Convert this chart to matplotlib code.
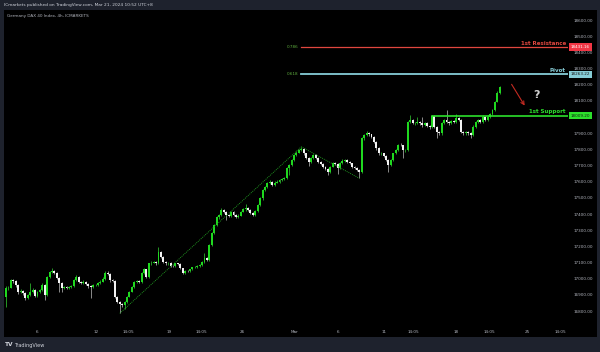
import matplotlib
matplotlib.use("Agg")
import matplotlib.pyplot as plt
import matplotlib.transforms as mtransforms
from matplotlib.patches import Rectangle
import numpy as np

# ---------------- data ----------------
first_open = 16885
closes = [16940, 16945, 16990, 16985, 16960, 16918, 16925, 16910, 16880, 16900,
          16920, 16930, 16895, 16915, 16930, 16960, 16900, 17010, 17040, 17050,
          17035, 17005, 16975, 16945, 16950, 16943, 16950, 16955, 16990, 17010,
          16982, 16975, 16982, 16970, 16955, 16950, 16960, 16962, 16975, 16982,
          17000, 17037, 17030, 16990, 16985, 16890, 16858, 16843, 16838, 16858,
          16890, 16920, 16950, 16982, 16985, 16980, 17033, 17058, 17010, 17095,
          17100, 17105, 17095, 17167, 17136, 17105, 17095, 17098, 17079, 17078,
          17095, 17092, 17064, 17037, 17050, 17045, 17058, 17070, 17073, 17080,
          17085, 17104, 17128, 17116, 17209, 17283, 17332, 17380, 17394, 17425,
          17415, 17394, 17388, 17415, 17394, 17383, 17390, 17415, 17429, 17436,
          17425, 17405, 17394, 17420, 17456, 17497, 17549, 17569, 17590, 17600,
          17580, 17595, 17600, 17611, 17615, 17621, 17683, 17703, 17734, 17765,
          17780, 17796, 17800, 17775, 17745, 17724, 17745, 17765, 17745, 17724,
          17710, 17693, 17677, 17662, 17693, 17714, 17710, 17683, 17714, 17730,
          17735, 17724, 17714, 17693, 17683, 17672, 17662, 17868, 17889, 17899,
          17893, 17878, 17847, 17806, 17775, 17775, 17759, 17734, 17703, 17734,
          17775, 17796, 17827, 17825, 17796, 17796, 17971, 17981, 17961, 17961,
          17971, 17961, 17951, 17961, 17945, 17936, 18006, 17940, 17909, 17899,
          17961, 17981, 17971, 17961, 17975, 17971, 17992, 17981, 17909, 17899,
          17909, 17899, 17889, 17940, 17971, 17981, 17971, 18002, 17981, 18002,
          18020, 18045, 18095, 18150, 18185]
highs = [16955, 16955, 17000, 16998, 16992, 16968, 16935, 16932, 16915, 16908,
         16972, 16940, 16935, 16922, 16938, 16975, 16965, 17015, 17048, 17068,
         17055, 17040, 17010, 16980, 16958, 16955, 16958, 16962, 16996, 17022,
         17015, 16988, 16990, 16988, 16975, 16960, 16968, 16970, 16982, 16990,
         17008, 17048, 17045, 17035, 16998, 16992, 16895, 16865, 16850, 16865,
         16895, 16925, 16955, 16988, 16992, 16992, 17040, 17065, 17062, 17100,
         17108, 17112, 17110, 17196, 17172, 17140, 17110, 17105, 17102, 17085,
         17100, 17100, 17098, 17068, 17055, 17055, 17062, 17075, 17080, 17088,
         17092, 17110, 17160, 17135, 17215, 17290, 17340, 17388, 17402, 17440,
         17432, 17420, 17400, 17422, 17420, 17400, 17398, 17422, 17435, 17460,
         17442, 17430, 17410, 17428, 17462, 17505, 17555, 17575, 17598, 17610,
         17605, 17602, 17608, 17618, 17622, 17628, 17690, 17710, 17740, 17772,
         17788, 17805, 17816, 17806, 17780, 17750, 17752, 17772, 17770, 17750,
         17730, 17715, 17698, 17682, 17700, 17720, 17720, 17715, 17720, 17738,
         17742, 17740, 17730, 17718, 17698, 17688, 17678, 17875, 17895, 17915,
         17905, 17898, 17882, 17852, 17812, 17782, 17780, 17765, 17740, 17740,
         17780, 17802, 17835, 17840, 17830, 17805, 17978, 18012, 17988, 17970,
         18000, 17978, 18000, 17968, 17968, 17952, 18012, 18010, 17945, 17915,
         17968, 17988, 18043, 17978, 17982, 17982, 18020, 17998, 17988, 17915,
         17915, 17915, 17905, 17948, 17978, 17988, 17988, 18010, 18008, 18010,
         18028, 18052, 18102, 18158, 18192]
lows = [16825, 16930, 16940, 16975, 16950, 16905, 16910, 16900, 16868, 16872,
        16895, 16912, 16888, 16890, 16910, 16925, 16868, 16895, 17005, 17035,
        17028, 16998, 16920, 16920, 16938, 16935, 16938, 16945, 16950, 16985,
        16975, 16968, 16970, 16962, 16945, 16880, 16945, 16952, 16958, 16970,
        16978, 16995, 17022, 16982, 16978, 16882, 16850, 16786, 16825, 16810,
        16852, 16885, 16915, 16945, 16975, 16972, 16975, 17028, 17002, 17005,
        17088, 17095, 17088, 17090, 17130, 17098, 17085, 17088, 17072, 17070,
        17072, 17085, 17058, 17030, 17032, 17040, 17040, 17052, 17065, 17068,
        17072, 17080, 17100, 17108, 17110, 17205, 17278, 17325, 17372, 17390,
        17408, 17363, 17380, 17382, 17388, 17375, 17378, 17385, 17410, 17422,
        17418, 17398, 17385, 17388, 17415, 17450, 17490, 17542, 17562, 17585,
        17572, 17575, 17590, 17595, 17605, 17608, 17615, 17641, 17698, 17728,
        17760, 17775, 17790, 17768, 17738, 17700, 17718, 17740, 17738, 17718,
        17702, 17686, 17670, 17640, 17655, 17688, 17702, 17650, 17678, 17708,
        17725, 17718, 17708, 17686, 17676, 17665, 17621, 17655, 17860, 17882,
        17885, 17870, 17840, 17798, 17768, 17765, 17750, 17726, 17662, 17698,
        17728, 17770, 17790, 17818, 17745, 17785, 17790, 17965, 17955, 17950,
        17955, 17952, 17940, 17945, 17938, 17928, 17930, 17932, 17868, 17890,
        17892, 17955, 17965, 17952, 17955, 17962, 17965, 17975, 17900, 17890,
        17892, 17892, 17870, 17882, 17935, 17965, 17962, 17965, 17975, 17975,
        17995, 18015, 18040, 18090, 18145]

price_ticks = [18600, 18500, 18400, 18300, 18200, 18100, 18000, 17900, 17800,
               17700, 17600, 17500, 17400, 17300, 17200, 17100, 17000, 16900, 16800]
hidden_ticks = [18000]  # fully covered by the support price box
time_labels = ["6", "12", "14:05", "19", "14:05", "26", "Mar", "6", "11",
               "14:05", "18", "14:05", "25", "14:05"]
time_pos = [12.8, 37.2, 50.4, 67.4, 80.6, 97.5, 119.4, 137.2, 156.2,
            168.2, 186.0, 199.6, 215.3, 228.9]

resistance = 18431.16
pivot = 18263.22
support = 18009.20
fib_res = "0.786"
fib_piv = "0.618"
tri_idx = [47, 122, 146]

# ---------------- figure ----------------
W, H = 600, 352
fig = plt.figure(figsize=(W / 100, H / 100), dpi=100)
fig.patch.set_facecolor("#1e222d")

# black chart panel (pane + scales)
fig.patches.append(Rectangle((4 / W, (H - 337) / H), (597 - 4) / W, (337 - 10) / H,
                             transform=fig.transFigure, facecolor="black",
                             edgecolor="none", zorder=-5))

ax = fig.add_axes([4 / W, (H - 319) / H, 564 / W, 309 / H])
ax.set_zorder(5)
ax.set_facecolor("black")
for s in ax.spines.values():
    s.set_visible(False)

n = len(closes)
x = np.arange(n)
opens = np.array([first_open] + closes[:-1], dtype=float)
c = np.array(closes, dtype=float)
hi = np.array(highs, dtype=float)
lo = np.array(lows, dtype=float)
up = c >= opens
up_col = "#1fd81f"
dn_col = "#f2f2f2"
cols = np.where(up, up_col, dn_col)
wick_cols = np.where(up, "#2bb02b", "#a0a0a0")

ax.vlines(x, lo, hi, colors=wick_cols, linewidth=0.6, zorder=2)
body_bottom = np.minimum(opens, c)
body_h = np.maximum(np.abs(c - opens), 2.5)
ax.bar(x, body_h, bottom=body_bottom, width=0.8, color=cols, linewidth=0, zorder=3)

xmin, xmax = -0.83, 232.2
ax.set_xlim(xmin, xmax)
ax.set_ylim(16751, 18662)

# triangle dotted lines
tx = [tri_idx[0], tri_idx[1], tri_idx[2]]
ty = [lows[tri_idx[0]], highs[tri_idx[1]], lows[tri_idx[2]]]
ax.plot(tx, ty, color="#22a022", linestyle=(0, (1.2, 1.2)), linewidth=0.6, zorder=4)

# level lines
start_fib = tri_idx[1]
ax.plot([start_fib, xmax], [resistance, resistance], color="#e0473f", linewidth=0.9, zorder=4)
ax.plot([start_fib, xmax], [pivot, pivot], color="#86ccd6", linewidth=1.3, zorder=4)
ax.plot([176, xmax], [support, support], color="#2ce02c", linewidth=1.2, zorder=5)

ax.text(start_fib - 1.0, resistance, fib_res, color="#5fae3f", fontsize=3.0,
        ha="right", va="center", zorder=6)
ax.text(start_fib - 1.0, pivot, fib_piv, color="#5fae3f", fontsize=3.0,
        ha="right", va="center", zorder=6)

ax.annotate("1st Resistance", xy=(xmax, resistance), xytext=(-1.5, 1.2),
            textcoords="offset points", ha="right", va="bottom",
            color="#e0473f", fontsize=4.0, fontweight="bold")
ax.annotate("Pivot", xy=(xmax, pivot), xytext=(-1.5, 1.2),
            textcoords="offset points", ha="right", va="bottom",
            color="#86ccd6", fontsize=4.0, fontweight="bold")
ax.annotate("1st Support", xy=(xmax, support), xytext=(-1.5, 1.2),
            textcoords="offset points", ha="right", va="bottom",
            color="#2ce02c", fontsize=4.0, fontweight="bold")

# arrow and question mark
ax.annotate("", xy=(214.9, 18056), xytext=(208.3, 18217),
            arrowprops=dict(arrowstyle="->", color="#c42b22", lw=0.8,
                            mutation_scale=6))
ax.text(219.0, 18136, "?", color="#cfcfcf", fontsize=8, fontweight="bold",
        ha="center", va="center")

# price scale
ax.yaxis.tick_right()
ax.set_yticks(price_ticks)
ax.set_yticklabels(["" if p in hidden_ticks else f"{p:.2f}" for p in price_ticks])
ax.tick_params(axis="y", length=0, pad=3.8, labelsize=3.0, colors="#b2b5be")

ax.set_xticks(time_pos)
ax.set_xticklabels(time_labels)
ax.tick_params(axis="x", length=0, pad=8.0, labelsize=3.0, colors="#b2b5be")

# price boxes
btr = mtransforms.blended_transform_factory(fig.transFigure, ax.transData)
for val, bg, fg in [(resistance, "#f23645", "white"),
                    (pivot, "#86ccd6", "#1a1a1a"),
                    (support, "#2ce02c", "#102010")]:
    fig.text(571 / W, val, f"{val:.2f}", transform=btr, fontsize=3.0, color=fg,
             ha="left", va="center", zorder=10,
             bbox=dict(boxstyle="square,pad=0.45", facecolor=bg, edgecolor="none"))

# header and footer
fig.text(4 / W, 1 - 5 / H, "ICmarkets published on TradingView.com, Mar 21, 2024 10:52 UTC+8",
         color="#d1d4dc", fontsize=3.1, ha="left", va="center")
fig.text(7 / W, 1 - 16 / H, "Germany DAX 40 Index, 4h, ICMARKETS",
         color="#b2b5be", fontsize=3.0, ha="left", va="center", zorder=10)
fig.text(5 / W, 1 - 345 / H, "TV", color="#d1d4dc", fontsize=4.2,
         fontweight="bold", ha="left", va="center")
fig.text(14 / W, 1 - 345 / H, "TradingView", color="#d1d4dc", fontsize=3.6,
         ha="left", va="center")

fig.savefig("out.png", dpi=100, facecolor=fig.get_facecolor())
